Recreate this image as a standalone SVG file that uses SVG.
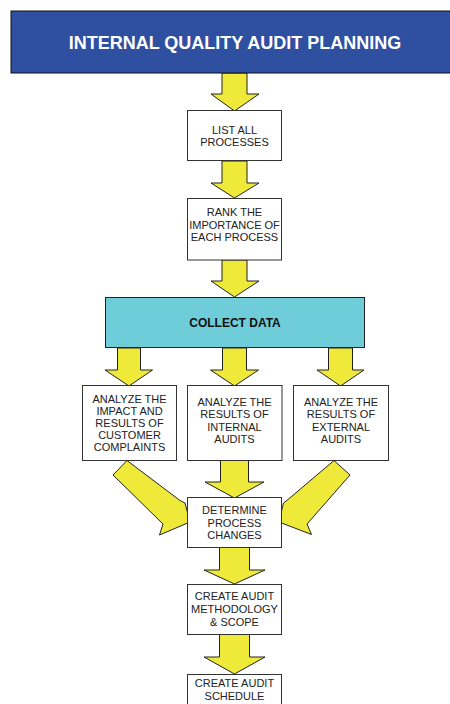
<svg xmlns="http://www.w3.org/2000/svg" width="450" height="704" viewBox="0 0 450 704">
  <style>
    .box { fill: #ffffff; stroke: #333333; stroke-width: 1; }
    .arrow { fill: #EFEA3A; stroke: #222222; stroke-width: 1; stroke-linejoin: miter; }
    .t { font-family: "Liberation Sans", Arial, sans-serif; font-size: 11px; fill: #222222; text-anchor: middle; }
    .title { font-family: "Liberation Sans", Arial, sans-serif; font-size: 18px; font-weight: bold; fill: #ffffff; text-anchor: middle; }
    .bold { font-family: "Liberation Sans", Arial, sans-serif; font-size: 12px; font-weight: bold; fill: #111111; text-anchor: middle; }
  </style>

  <rect width="450" height="704" fill="#ffffff"/>

  <!-- block arrows, drawn first so the boxes sit on top of their ends -->
  <g id="connectors">
    <polygon class="arrow" points="222,73 247,73 247,94 259,94 234.5,111 211,94 222,94"/>
    <polygon class="arrow" points="222,161 247,161 247,183 259,183 234.5,198 211,183 222,183"/>
    <polygon class="arrow" points="222,260 247,260 247,281 259,281 234.5,297 211,281 222,281"/>
    <polygon class="arrow" points="117.5,348 140.5,348 140.5,370 152.5,370 129,386 105,370 117.5,370"/>
    <polygon class="arrow" points="222.5,348 246.5,348 246.5,370 258.5,370 234.5,386 210.5,370 222.5,370"/>
    <polygon class="arrow" points="328.5,348 352.5,348 352.5,370 364,370 340.5,386 317,370 328.5,370"/>
    <polygon class="arrow" points="220.5,460 248.5,460 248.5,482 264,482 234.5,498 205,482 220.5,482"/>
    <polygon class="arrow" points="219.5,547 249.5,547 249.5,570 265,570 234.5,584 204,570 219.5,570"/>
    <polygon class="arrow" points="219.5,634 249.5,634 249.5,657 265,657 234.5,674 204,657 219.5,657"/>
    <!-- diagonal arrows from the outer analysis boxes -->
    <polygon class="arrow" points="113,475 127,460.5 180,500.5 185,503 190,522 159.5,535 163,524"/>
    <polygon class="arrow" points="350,475 334,460.5 288,499.5 283.5,503 279,522 311.5,534.5 307,524"/>
  </g>

  <g id="title">
    <rect x="11" y="11" width="445" height="62" fill="#2F4FA0" stroke="#111111" stroke-width="1"/>
    <text class="title" x="235" y="48.5">INTERNAL QUALITY AUDIT PLANNING</text>
  </g>

  <g id="list-processes">
    <rect class="box" x="187.5" y="110.5" width="94" height="50"/>
    <text class="t" x="234.5" y="133.5">LIST ALL</text>
    <text class="t" x="234.5" y="146">PROCESSES</text>
  </g>

  <g id="rank-processes">
    <rect class="box" x="187.5" y="198.5" width="94" height="61.5"/>
    <text class="t" x="234.5" y="216">RANK THE</text>
    <text class="t" x="234.5" y="228.5">IMPORTANCE OF</text>
    <text class="t" x="234.5" y="241">EACH PROCESS</text>
  </g>

  <g id="collect-data">
    <rect x="105.5" y="297.5" width="259" height="50" fill="#6FCCD9" stroke="#222222" stroke-width="1"/>
    <text class="bold" x="235" y="327">COLLECT DATA</text>
  </g>

  <g id="customer-complaints">
    <rect class="box" x="82.5" y="385.5" width="94" height="75"/>
    <text class="t" x="129.5" y="402.5">ANALYZE THE</text>
    <text class="t" x="129.5" y="414.5">IMPACT AND</text>
    <text class="t" x="129.5" y="426.5">RESULTS OF</text>
    <text class="t" x="129.5" y="438.5">CUSTOMER</text>
    <text class="t" x="129.5" y="450.5">COMPLAINTS</text>
  </g>

  <g id="internal-audits">
    <rect class="box" x="187.5" y="385.5" width="94.5" height="75"/>
    <text class="t" x="234.5" y="405.5">ANALYZE THE</text>
    <text class="t" x="234.5" y="418">RESULTS OF</text>
    <text class="t" x="234.5" y="430.5">INTERNAL</text>
    <text class="t" x="234.5" y="443">AUDITS</text>
  </g>

  <g id="external-audits">
    <rect class="box" x="293.5" y="385.5" width="95" height="75"/>
    <text class="t" x="341" y="405.5">ANALYZE THE</text>
    <text class="t" x="341" y="418">RESULTS OF</text>
    <text class="t" x="341" y="430.5">EXTERNAL</text>
    <text class="t" x="341" y="443">AUDITS</text>
  </g>

  <g id="process-changes">
    <rect class="box" x="187.5" y="497.5" width="94" height="50"/>
    <text class="t" x="234.5" y="514">DETERMINE</text>
    <text class="t" x="234.5" y="526.5">PROCESS</text>
    <text class="t" x="234.5" y="539">CHANGES</text>
  </g>

  <g id="audit-methodology">
    <rect class="box" x="187.5" y="584.5" width="94" height="50"/>
    <text class="t" x="234.5" y="599.5">CREATE AUDIT</text>
    <text class="t" x="234.5" y="612.5">METHODOLOGY</text>
    <text class="t" x="234.5" y="625.5">&amp; SCOPE</text>
  </g>

  <g id="audit-schedule">
    <rect class="box" x="187.5" y="674.5" width="94" height="50"/>
    <text class="t" x="234.5" y="687">CREATE AUDIT</text>
    <text class="t" x="234.5" y="699.5">SCHEDULE</text>
  </g>
</svg>
